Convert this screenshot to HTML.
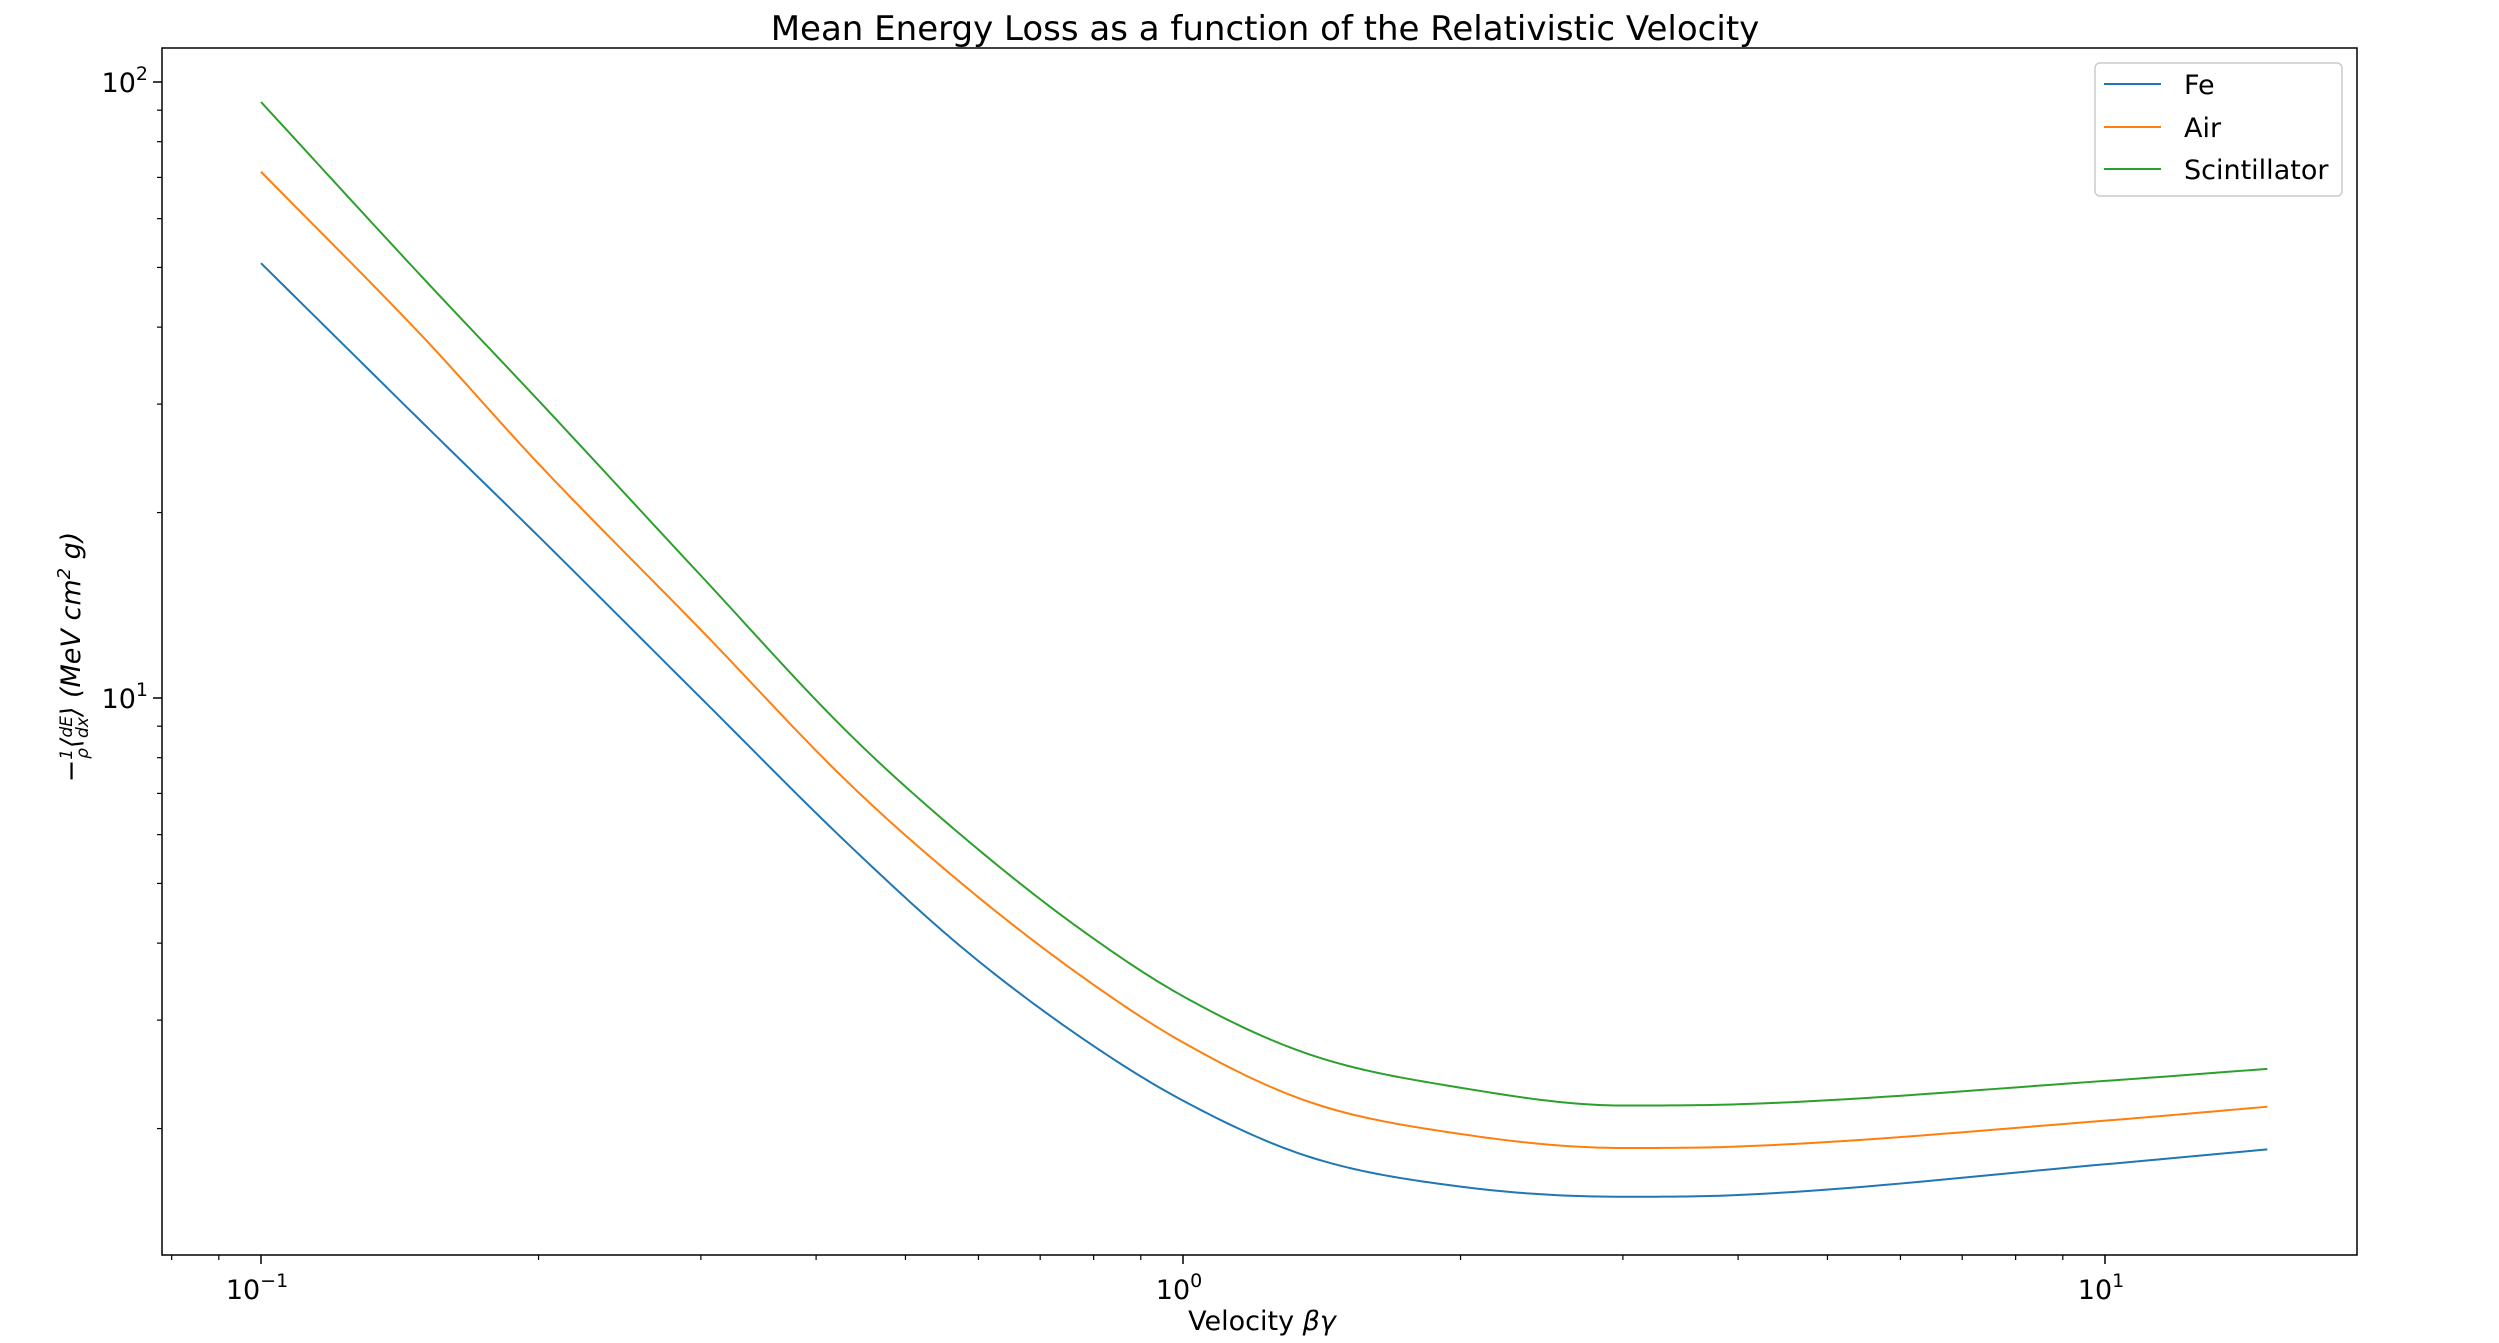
<!DOCTYPE html>
<html><head><meta charset="utf-8"><style>
html,body{margin:0;padding:0;background:#fff;}
svg{display:block;font-family:"DejaVu Sans","Liberation Sans",sans-serif;}
</style></head><body>
<svg id="chart" width="2499" height="1343" viewBox="0 0 2499 1343" xmlns="http://www.w3.org/2000/svg">
<rect x="0" y="0" width="2499" height="1343" fill="#fff"/>
<text x="1265" y="40" font-size="34" text-anchor="middle">Mean Energy Loss as a function of the Relativistic Velocity</text>
<g id="plot"></g>
<text x="1262" y="1330" font-size="27" text-anchor="middle">Velocity <tspan font-style="italic">βγ</tspan></text>
<g transform="translate(80,657) rotate(-90)">
<text x="0" y="0" font-size="27" text-anchor="middle" font-style="italic">−<tspan font-size="17" dy="-8">1</tspan><tspan font-size="17" dx="-10" dy="16">ρ</tspan><tspan dy="-8">⟨</tspan><tspan font-size="17" dy="-8">dE</tspan><tspan font-size="17" dx="-22" dy="16">dx</tspan><tspan dy="-8">⟩ (MeV cm</tspan><tspan font-size="18" dy="-10">2</tspan><tspan dy="10"> g)</tspan></text>
</g>
<g>
<rect x="2095" y="63" width="247" height="133" rx="5" fill="#fff" stroke="#ccc" stroke-width="1.5"/>
<g><line x1="2104" y1="84" x2="2161" y2="84" stroke="#1f77b4" stroke-width="2"/><text x="2184" y="94" font-size="27">Fe</text></g>
<g><line x1="2104" y1="127" x2="2161" y2="127" stroke="#ff7f0e" stroke-width="2"/><text x="2184" y="137" font-size="27">Air</text></g>
<g><line x1="2104" y1="169" x2="2161" y2="169" stroke="#2ca02c" stroke-width="2"/><text x="2184" y="179" font-size="27">Scintillator</text></g>
</g>
</svg>
<script>
const xValues = [0.1, 0.15, 0.2, 0.3, 0.435, 0.58, 0.773, 1, 1.37, 2, 3, 4, 10, 15];
const feValues = [50.8, 27.9, 18.3, 10.0, 5.76, 3.90, 2.82, 2.22, 1.80, 1.61, 1.55, 1.56, 1.75, 1.85];
const airValues = [71.5, 38.5, 24.0, 12.9, 7.25, 4.95, 3.55, 2.76, 2.21, 1.96, 1.86, 1.87, 2.06, 2.17];
const scintValues = [92.8, 48.0, 30.4, 15.8, 8.73, 5.92, 4.22, 3.28, 2.64, 2.33, 2.18, 2.19, 2.39, 2.50];
const seriesNames = ["Fe", "Air", "Scintillator"];
const xTickExps = [-1, 0, 1];
const yTickExps = [1, 2];

const L = 162, R = 2357, T = 48, B = 1255;
const x0 = 1183, xDec = 922;
const y2 = 82, yDec = 616;
function xs(v){ return x0 + Math.log10(v) * xDec; }
function ys(v){ return y2 - (Math.log10(v) - 2) * yDec; }
const NS = "http://www.w3.org/2000/svg";
const g = document.getElementById('plot');
function mk(tag, attrs, parent){ const e = document.createElementNS(NS, tag); for (const k in attrs) e.setAttribute(k, attrs[k]); (parent||g).appendChild(e); return e; }

for (let e = -2; e <= 1; e++) for (let m = 2; m <= 9; m++) {
  const v = m * Math.pow(10, e), x = xs(v);
  if (x > L && x < R) {
    const t = mk('line', {x1:x, y1:B, x2:x, y2:B+5, stroke:'#000', 'stroke-width':1.2});
    
    
  }
}
for (let e = 0; e <= 2; e++) for (let m = 2; m <= 9; m++) {
  const v = m * Math.pow(10, e), y = ys(v);
  if (y > T && y < B) {
    const t = mk('line', {x1:L-5, y1:y, x2:L, y2:y, stroke:'#000', 'stroke-width':1.2});
    
    
  }
}
xTickExps.forEach(e => {
  const x = xs(Math.pow(10, e));
  const t = mk('line', {x1:x, y1:B, x2:x, y2:B+9, stroke:'#000', 'stroke-width':1.5});
  
  
  const lbl = mk('text', {x:x-4, y:B+44, 'font-size':27, 'text-anchor':'middle'});
  
  
  lbl.innerHTML = '10<tspan font-size="19" dy="-12">' + (e < 0 ? '−' + (-e) : e) + '</tspan>';
});
yTickExps.forEach(e => {
  const y = ys(Math.pow(10, e));
  const t = mk('line', {x1:L-9, y1:y, x2:L, y2:y, stroke:'#000', 'stroke-width':1.5});
  
  
  const lbl = mk('text', {x:L-14, y:y+10, 'font-size':27, 'text-anchor':'end'});
  
  
  lbl.innerHTML = '10<tspan font-size="19" dy="-12">' + e + '</tspan>';
});

function curvePath(xsv, ysv){
  const X = xsv.map(v=>Math.log10(v)), Y = ysv.map(v=>Math.log10(v));
  const n = X.length, d = [], m = new Array(n);
  for (let i=0;i<n-1;i++) d.push((Y[i+1]-Y[i])/(X[i+1]-X[i]));
  m[0]=d[0]; m[n-1]=d[n-2];
  for (let i=1;i<n-1;i++) m[i] = (d[i-1]*d[i] <= 0) ? 0 : (d[i-1]+d[i])/2;
  for (let i=0;i<n-1;i++){
    if (d[i]===0){m[i]=0;m[i+1]=0;continue;}
    const a=m[i]/d[i], b=m[i+1]/d[i], s=a*a+b*b;
    if (s>9){const t=3/Math.sqrt(s); m[i]=t*a*d[i]; m[i+1]=t*b*d[i];}
  }
  let path = '';
  for (let i=0;i<n-1;i++){
    const h = X[i+1]-X[i];
    for (let k=0;k<=20;k++){
      if (i>0 && k===0) continue;
      const t=k/20, t2=t*t, t3=t2*t;
      const yv = (2*t3-3*t2+1)*Y[i] + (t3-2*t2+t)*h*m[i] + (-2*t3+3*t2)*Y[i+1] + (t3-t2)*h*m[i+1];
      const xv = X[i]+t*h;
      const px = x0 + xv*xDec, py = y2 - (yv-2)*yDec;
      path += (path ? ' L' : 'M') + px.toFixed(2) + ',' + py.toFixed(2);
    }
  }
  return path;
}
const fe = mk('path', {d:curvePath(xValues, feValues), fill:'none', stroke:'#1f77b4', 'stroke-width':2});


const air = mk('path', {d:curvePath(xValues, airValues), fill:'none', stroke:'#ff7f0e', 'stroke-width':2});


const sc = mk('path', {d:curvePath(xValues, scintValues), fill:'none', stroke:'#2ca02c', 'stroke-width':2});



const frame = mk('rect', {x:L, y:T, width:R-L, height:B-T, fill:'none', stroke:'#000', 'stroke-width':1.5});


</script>
</body></html>
